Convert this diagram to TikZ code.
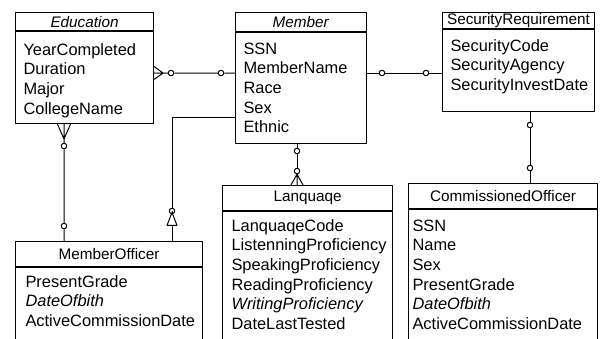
\documentclass[tikz,border=0pt]{standalone}
\usepackage{fontspec}
\setmainfont{Liberation Sans}
\usetikzlibrary{shapes.geometric}

\newcommand{\attlist}[3]{\parbox[c][#1][t]{#2}{\strut#3}}

\tikzset{
	enthead/.style={draw, line width=1.1pt, anchor=north west, inner sep=0pt, font=\fontsize{15.3}{18}\selectfont},
	entbody/.style={draw, line width=1.1pt, anchor=north west, inner xsep=8pt, inner ysep=8pt, font=\fontsize{16.4}{19.6}\selectfont},
	ring/.style={circle, draw, fill=white, inner sep=0pt, minimum size=5.5pt, line width=1pt},
	isa/.style={isosceles triangle, shape border rotate=90, isosceles triangle stretches, draw, fill=white, inner sep=0pt, minimum height=13pt, minimum width=10pt, line width=1pt},
	link/.style={line width=1pt}
}

\begin{document}
\begin{tikzpicture}[x=1pt, y=-1pt, line join=round]
			\useasboundingbox (0,0) rectangle (600,338);
			\clip (0,0) rectangle (600,338);
			\path 
				(15,12) coordinate (Pedu)
				(235,12) coordinate (Pmem)
				(442,12) coordinate (Psec)
				(15,241) coordinate (Pmo)
				(222,185) coordinate (Plang)
				(408,183) coordinate (Pcom)
			;
			
			% entities
			\node[enthead, minimum width=138pt, minimum height=18pt] (edu) at (Pedu) {\textit{Education}};
			\node[entbody, inner ysep=10pt] (edub) at (edu.south west) {\attlist{72pt}{122pt}{YearCompleted\\Duration\\Major\\CollegeName}};
			
			\node[enthead, minimum width=131pt, minimum height=19pt] (mem) at (Pmem) {\textit{Member}};
			\node[entbody] (memb) at (mem.south west) {\attlist{95pt}{115pt}{SSN\\MemberName\\Race\\Sex\\Ethnic}};
			
			\node[enthead, minimum width=152pt, minimum height=16pt] (sec) at (Psec) {SecurityRequirement};
			\node[entbody] (secb) at (sec.south west) {\attlist{66pt}{136pt}{SecurityCode\\SecurityAgency\\SecurityInvestDate}};
			
			\node[enthead, minimum width=187pt, minimum height=25pt] (mo) at (Pmo) {MemberOfficer};
			\node[entbody, inner xsep=10pt, inner ysep=6pt] (mob) at (mo.south west) {\attlist{66pt}{167pt}{PresentGrade\\\textit{DateOfbith}\\ActiveCommissionDate}};
			
			\node[enthead, minimum width=170pt, minimum height=25pt] (lang) at (Plang) {Lanquaqe};
			\node[entbody, inner xsep=9pt, inner ysep=6pt] (langb) at (lang.south west) {\attlist{123pt}{152pt}{LanquaqeCode\\ListenningProficiency\\SpeakingProficiency\\ReadingProficiency\\\textit{WritingProficiency}\\DateLastTested}};
			
			\node[enthead, minimum width=189pt, minimum height=25pt] (com) at (Pcom) {CommissionedOfficer};
			\node[entbody, inner xsep=4pt] (comb) at (com.south west) {\attlist{121pt}{181pt}{SSN\\Name\\Sex\\PresentGrade\\\textit{DateOfbith}\\ActiveCommissionDate}};
			
			% optional ends
			\foreach \n/\x/\y in {r1/171/73, r2/221/73, r3/382/73, r4/426/73, r5/297/151, r6/297/171, r7/530/125, r8/530/168, r9/64/146, r10/64/226, r11/172/211}{
				\node[ring] (\n) at (\x,\y) {};
			};
			\node[isa] (t1) at (172,222) {};
			
			% Education -- Member
			\coordinate (f1) at (163,73);
			\coordinate (e1) at (edub.east |- f1);
			\draw[link] ([yshift=6.5pt]e1) -- (f1) -- ([yshift=-6.5pt]e1) (e1) -- (f1) -- (r1) -- (r2) -- (memb.west |- r2);
			
			% Member -- SecurityRequirement
			\draw[link] (memb.east |- r3) -- (r3) -- (r4) -- (secb.west |- r4);
			
			% Member -- Lanquaqe
			\coordinate (e3) at (r6 |- lang.north);
			\draw[link] (memb.south -| r5) -- (r5) -- (r6);
			\draw[link] (r6.south) -- ([xshift=-6pt]e3) (r6.south) -- (e3) (r6.south) -- ([xshift=6pt]e3);
			
			% SecurityRequirement -- CommissionedOfficer
			\draw[link] (secb.south -| r7) -- (r7) -- (r8) -- (com.north -| r8);
			
			% Education -- MemberOfficer
			\coordinate (f2) at (64,139);
			\coordinate (e2) at (edub.south -| f2);
			\draw[link] ([xshift=-6.5pt]e2) -- (f2) -- ([xshift=6.5pt]e2) (e2) -- (f2) -- (r9) -- (r10) -- (mo.north -| r10);
			
			% Member -- MemberOfficer
			\coordinate (k1) at (172,117);
			\draw[link] (memb.west |- k1) -- (k1) -- (r11) -- (t1) -- (mo.north -| t1);
			
		\end{tikzpicture}
\end{document}
